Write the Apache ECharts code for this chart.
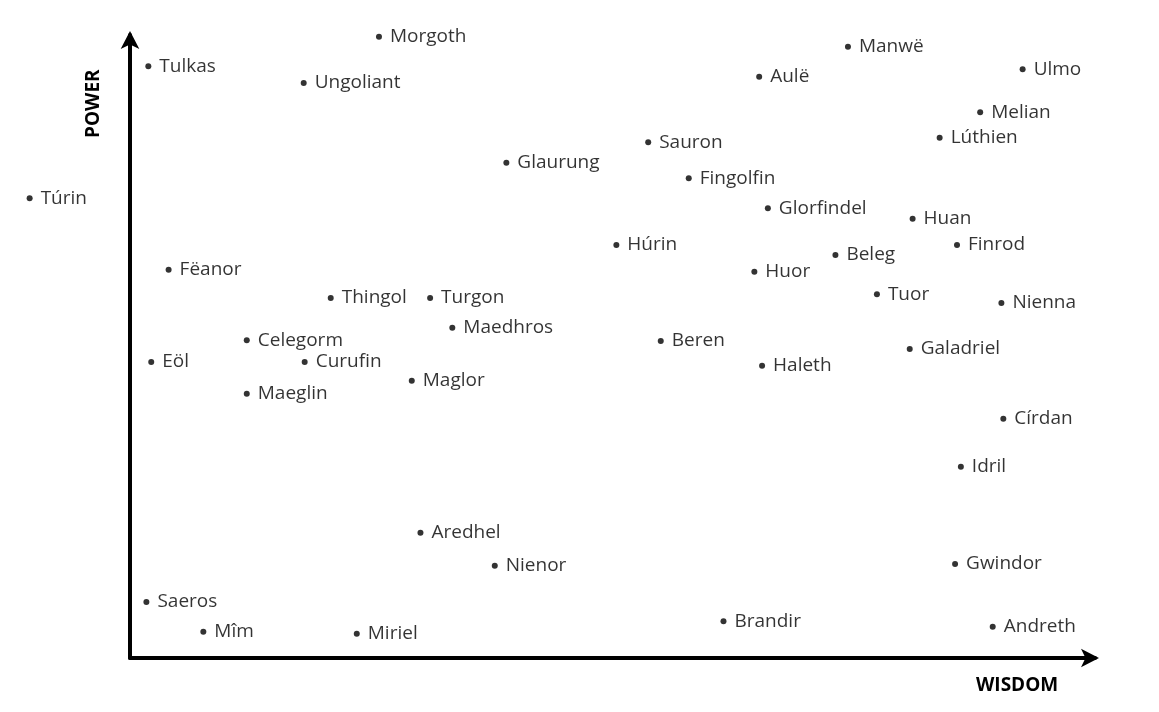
<!DOCTYPE html>
<html><head><meta charset="utf-8">
<script src="https://cdn.jsdelivr.net/npm/echarts@6/dist/echarts.min.js"></script>
<style>html,body{margin:0;background:#fff}#c{width:1159px;height:712px}</style>
</head><body><div id="c"></div>
<script>
const names = ["Morgoth","Tulkas","Ungoliant","Túrin","Manwë","Aulë","Ulmo","Melian","Lúthien","Sauron","Glaurung","Fingolfin","Glorfindel","Huan","Húrin","Finrod","Beleg","Huor","Fëanor","Thingol","Turgon","Tuor","Nienna","Maedhros","Celegorm","Beren","Galadriel","Eöl","Curufin","Haleth","Maglor","Maeglin","Círdan","Idril","Aredhel","Nienor","Gwindor","Saeros","Mîm","Miriel","Brandir","Andreth"];
const wisdom = [25.8,1.9,18.0,-10.4,74.4,65.2,92.5,88.1,83.9,53.7,39.0,57.9,66.1,81.1,50.4,85.7,73.1,64.7,4.0,20.8,31.1,77.4,90.3,33.4,12.1,55.0,80.8,2.2,18.1,65.5,29.2,12.1,90.5,86.1,30.1,37.8,85.5,1.7,7.6,23.5,61.5,89.4];
const power = [99.7,95.0,92.3,73.8,98.1,93.3,94.5,87.6,83.5,82.8,79.5,77.0,72.2,70.5,66.3,66.3,64.7,62.0,62.3,57.8,57.8,58.4,57.0,53.0,51.0,50.9,49.6,47.5,47.5,46.9,44.5,42.4,38.4,30.7,20.1,14.8,15.1,9.0,4.2,3.9,5.9,5.0];
const chart = echarts.init(document.getElementById('c'));
chart.setOption({
  animation:false,
  grid:{left:130,top:35,width:965,height:623},
  xAxis:{type:'value',min:0,max:100,splitLine:{show:false},axisTick:{show:false},axisLabel:{show:false},
    axisLine:{lineStyle:{color:'#000',width:4},symbol:['none','arrow'],symbolSize:[14,18],symbolOffset:[0,4]}},
  yAxis:{type:'value',min:0,max:100,splitLine:{show:false},axisTick:{show:false},axisLabel:{show:false},
    axisLine:{lineStyle:{color:'#000',width:4},symbol:['none','arrow'],symbolSize:[14,18],symbolOffset:[0,4]}},
  graphic:[
    {type:'text',left:1000-24,top:676,style:{text:'WISDOM',font:'bold 19px "Open Sans", sans-serif',fill:'#000'}},
    {type:'text',x:84,y:138,rotation:Math.PI/2,style:{text:'POWER',font:'bold 19px "Open Sans", sans-serif',fill:'#000'}}
  ],
  series:[{type:'scatter',clip:false,symbolSize:6,itemStyle:{color:'#000'},
    data:names.map((n,i)=>({name:n,value:[wisdom[i],power[i]]})),
    label:{show:true,position:'right',distance:8,formatter:'{b}',color:'#000',fontSize:19,fontFamily:'"Open Sans", sans-serif'}}]
});
</script></body></html>
